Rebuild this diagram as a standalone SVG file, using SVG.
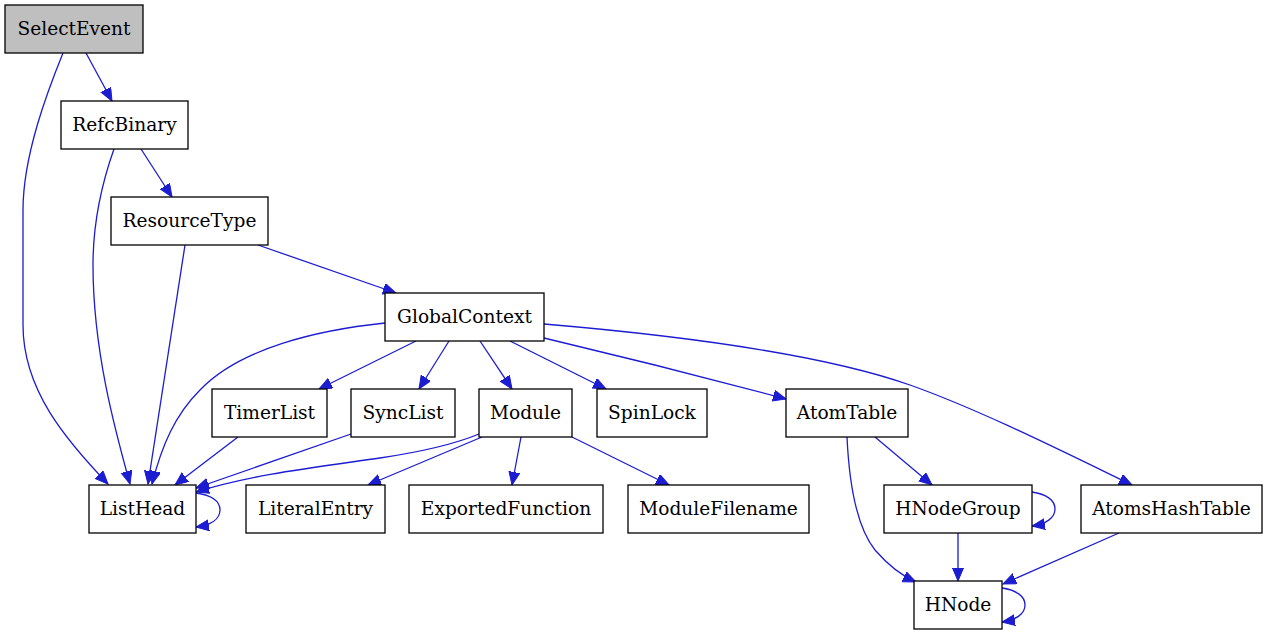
<svg xmlns="http://www.w3.org/2000/svg" width="1267" height="635" viewBox="0 0 1267 635">
<style>
.n rect{fill:#ffffff;stroke:#000000;stroke-width:1.3}
.n text{font-family:"DejaVu Serif","Liberation Serif",serif;font-size:18.6px;fill:#000000;text-anchor:middle}
.e path{fill:none;stroke:#1c1cd0;stroke-width:1.3;marker-end:url(#ah)}
</style>
<defs>
<marker id="ah" markerUnits="userSpaceOnUse" markerWidth="15" markerHeight="12" refX="13" refY="5.5" orient="auto">
<path d="M0,0 L13,5.5 L0,11 z" fill="#1c1cd0" stroke="#1c1cd0" stroke-width="1"/>
</marker>
</defs>
<rect width="1267" height="635" fill="#ffffff"/>
<g id="edges" class="e">
<path d="M86,53 L112,101"/>
<path d="M63,53 C48,90 23,155 23,210 L23,325 C23,390 66,440 108,484"/>
<path d="M141,149 L172,197"/>
<path d="M114,149 C103,180 93,220 93,265 C93,350 115,430 130,484"/>
<path d="M185,245 L148,484"/>
<path d="M258,245 L396,293"/>
<path d="M385,323 C318,330 240,348 200,390 C175,415 162,445 152,484"/>
<path d="M416,341 L319,389"/>
<path d="M449,341 L419,389"/>
<path d="M480,341 L512,389"/>
<path d="M510,341 L606,389"/>
<path d="M544,338 C620,356 700,376 786,399"/>
<path d="M544,324 C650,333 810,350 910,385 C980,410 1060,450 1132,485"/>
<path d="M238,437 L175,485"/>
<path d="M351,434 L196,488"/>
<path d="M479,434 C455,444 420,452 380,458 C310,468 250,475 196,492"/>
<path d="M482,437 L368,485"/>
<path d="M521,437 L512,485"/>
<path d="M572,437 L669,485"/>
<path d="M847,437 C849,480 855,525 875,550 C888,565 900,575 916,582"/>
<path d="M875,437 L932,485"/>
<path d="M1032,492 C1046,494 1055,500 1055,509 C1055,518 1046,524 1032,526"/>
<path d="M958,533 L958,581"/>
<path d="M1119,533 L1003,584"/>
<path d="M1002,588 C1016,590 1025,596 1025,605 C1025,614 1016,620 1002,622"/>
<path d="M196,493 C211,495 220,501 220,510 C220,519 211,525 196,527"/>
</g>
<g id="SelectEvent" class="n"><rect x="5" y="5" width="138" height="48" style="fill:#bfbfbf"/><text x="74" y="35">SelectEvent</text></g>
<g id="RefcBinary" class="n"><rect x="61" y="101" width="127" height="48"/><text x="124.5" y="131">RefcBinary</text></g>
<g id="ResourceType" class="n"><rect x="111" y="197" width="157" height="48"/><text x="189.5" y="227">ResourceType</text></g>
<g id="GlobalContext" class="n"><rect x="385" y="293" width="159" height="48"/><text x="464.5" y="323">GlobalContext</text></g>
<g id="TimerList" class="n"><rect x="212" y="389" width="115" height="48"/><text x="269.5" y="419">TimerList</text></g>
<g id="SyncList" class="n"><rect x="351" y="389" width="104" height="48"/><text x="403" y="419">SyncList</text></g>
<g id="Module" class="n"><rect x="479" y="389" width="93" height="48"/><text x="525.5" y="419">Module</text></g>
<g id="SpinLock" class="n"><rect x="597" y="389" width="110" height="48"/><text x="652" y="419">SpinLock</text></g>
<g id="AtomTable" class="n"><rect x="786" y="389" width="122" height="48"/><text x="847" y="419">AtomTable</text></g>
<g id="ListHead" class="n"><rect x="89" y="485" width="107" height="48"/><text x="142.5" y="515">ListHead</text></g>
<g id="LiteralEntry" class="n"><rect x="246" y="485" width="139" height="48"/><text x="315.5" y="515">LiteralEntry</text></g>
<g id="ExportedFunction" class="n"><rect x="409" y="485" width="194" height="48"/><text x="506" y="515">ExportedFunction</text></g>
<g id="ModuleFilename" class="n"><rect x="628" y="485" width="181" height="48"/><text x="718.5" y="515">ModuleFilename</text></g>
<g id="HNodeGroup" class="n"><rect x="884" y="485" width="148" height="48"/><text x="958" y="515">HNodeGroup</text></g>
<g id="AtomsHashTable" class="n"><rect x="1081" y="485" width="181" height="48"/><text x="1171.5" y="515">AtomsHashTable</text></g>
<g id="HNode" class="n"><rect x="914" y="581" width="88" height="48"/><text x="958" y="611">HNode</text></g>
</svg>
